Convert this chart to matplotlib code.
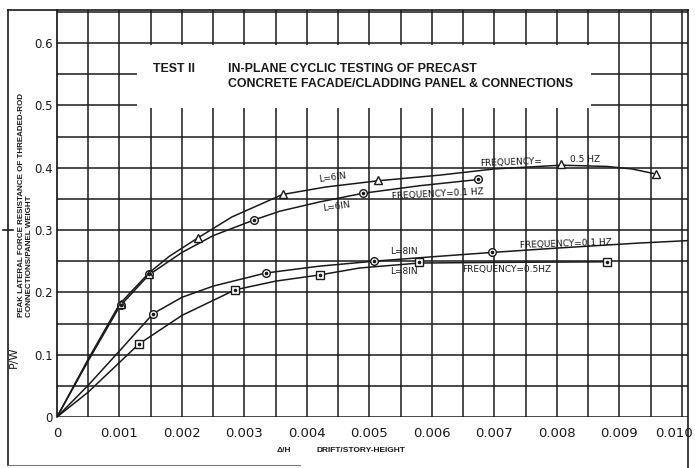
import numpy as np
import matplotlib
matplotlib.use("Agg")
import matplotlib.pyplot as plt
from matplotlib.patches import Rectangle
from matplotlib.lines import Line2D
from matplotlib.transforms import ScaledTranslation

# ---------------- data ----------------
# markers
tri_x = [0.00102, 0.00147, 0.00225, 0.00361, 0.00514, 0.00807, 0.00958]   # L=6in, 0.5 Hz
tri_y = [0.181, 0.230, 0.287, 0.358, 0.381, 0.406, 0.390]
c6_x = [0.00102, 0.00147, 0.00315, 0.0049, 0.00674]                       # L=6in, 0.1 Hz
c6_y = [0.180, 0.230, 0.316, 0.359, 0.382]
c8_x = [0.00154, 0.00334, 0.00508, 0.00696]                               # L=8in, 0.1 Hz
c8_y = [0.166, 0.231, 0.250, 0.264]
sq_x = [0.00131, 0.00285, 0.00421, 0.00579, 0.0088]                       # L=8in, 0.5 Hz
sq_y = [0.117, 0.204, 0.228, 0.248, 0.249]

# hand-drawn fitted curves
tri_cx = [0, 0.0005, 0.001, 0.00147, 0.0018, 0.00225, 0.0028, 0.00361, 0.0043,
          0.00514, 0.00612, 0.0070, 0.00807, 0.0088, 0.0092, 0.00958]
tri_cy = [0, 0.093, 0.181, 0.231, 0.258, 0.287, 0.321, 0.357, 0.369,
          0.379, 0.388, 0.398, 0.404, 0.402, 0.398, 0.390]
c6_cx = [0, 0.0005, 0.001, 0.00147, 0.002, 0.0025, 0.00315, 0.00356, 0.0042,
         0.0049, 0.0058, 0.00674]
c6_cy = [0, 0.090, 0.177, 0.228, 0.264, 0.291, 0.316, 0.330, 0.345,
         0.359, 0.371, 0.381]
c8_cx = [0, 0.0005, 0.001, 0.00154, 0.002, 0.0025, 0.00334, 0.0042, 0.00508,
         0.006, 0.00696, 0.008, 0.0093, 0.0101]
c8_cy = [0, 0.051, 0.106, 0.166, 0.192, 0.210, 0.231, 0.242, 0.250,
         0.257, 0.264, 0.271, 0.279, 0.283]
sq_cx = [0, 0.0005, 0.00131, 0.002, 0.00285, 0.0035, 0.00421, 0.00484,
         0.00579, 0.007, 0.0088]
sq_cy = [0, 0.040, 0.117, 0.163, 0.204, 0.218, 0.228, 0.239,
         0.247, 0.248, 0.249]

x_ticks = [0, 0.001, 0.002, 0.003, 0.004, 0.005, 0.006, 0.007, 0.008, 0.009, 0.010]
x_tick_labels = ["0", "0.001", "0.002", "0.003", "0.004", "0.005", "0.006",
                 "0.007", "0.008", "0.009", "0.010"]
y_ticks = [0, 0.1, 0.2, 0.3, 0.4, 0.5, 0.6]
y_tick_labels = ["0", "0.1", "0.2", "0.3", "0.4", "0.5", "0.6"]

# ---------------- figure ----------------
W, H = 695, 468
fig = plt.figure(figsize=(W / 100, H / 100), dpi=100)
fig.patch.set_facecolor("white")


def fpx(x, y):
    return x / W, 1 - y / H


ax = fig.add_axes([57 / W, 51 / H, (688 - 57) / W, (417 - 10) / H])
ax.set_xlim(0, 0.0101)
ax.set_ylim(0, 0.653)
for s in ["top", "right", "bottom"]:
    ax.spines[s].set_visible(False)
ax.spines["left"].set_linewidth(1.2)
ax.spines["left"].set_color("#111111")

ink = "#1a1a1a"
# grid
for gx in np.arange(0.0005, 0.0101, 0.0005):
    ax.axvline(gx, color=ink, lw=1.1, zorder=1)
for gy in np.arange(0.0, 0.66, 0.05):
    ax.axhline(gy, color=ink, lw=1.1, zorder=1)

# title box (white area covering the grid)
ax.add_patch(Rectangle((0.00128, 0.4965), 0.00726, 0.1005, facecolor="white",
                       edgecolor="none", zorder=2))

# curves
for cx, cy in [(tri_cx, tri_cy), (c6_cx, c6_cy), (c8_cx, c8_cy), (sq_cx, sq_cy)]:
    ax.plot(cx, cy, color=ink, lw=1.1, zorder=3, solid_capstyle="round")

# markers
mk = dict(markerfacecolor="white", markeredgecolor=ink, markeredgewidth=1.0,
          linestyle="none", zorder=4)
ax.plot(c6_x, c6_y, marker="o", markersize=5.5, **mk)
ax.plot(c8_x, c8_y, marker="o", markersize=5.5, **mk)
ax.plot(sq_x, sq_y, marker="s", markersize=5.5, **mk)
ax.plot(tri_x, tri_y, marker="^", markersize=6, **mk)
dot = dict(marker="o", markersize=1.6, color=ink, linestyle="none", zorder=5)
ax.plot(c6_x, c6_y, **dot)
ax.plot(c8_x, c8_y, **dot)
ax.plot(sq_x, sq_y, **dot)

# ticks
ax.set_xticks(x_ticks)
ax.set_xticklabels(x_tick_labels, fontsize=9.5, family="DejaVu Sans")
ax.set_yticks(y_ticks)
ax.set_yticklabels(y_tick_labels, fontsize=8.5, family="DejaVu Sans")
ax.tick_params(axis="both", length=0, colors=ink)
ax.tick_params(axis="x", pad=7)
ax.tick_params(axis="y", pad=3)
last = ax.get_xticklabels()[-1]
last.set_transform(last.get_transform() + ScaledTranslation(-8 / 100, 0, fig.dpi_scale_trans))

# handwritten annotations
hw = dict(fontsize=6.5, color=ink, family="DejaVu Sans", zorder=6,
          ha="center", va="center")
ax.text(0.00441, 0.384, "L=6IN", rotation=8, **hw)
ax.text(0.00447, 0.337, "L=6IN", rotation=8, **hw)
ax.text(0.0061, 0.358, "FREQUENCY=0.1 HZ", rotation=3, **hw)
ax.text(0.00727, 0.409, "FREQUENCY=", rotation=2, **hw)
ax.text(0.00846, 0.413, "0.5 HZ", **hw)
ax.text(0.00556, 0.266, "L=8IN", **hw)
ax.text(0.00556, 0.233, "L=8IN", **hw)
ax.text(0.00815, 0.277, "FREQUENCY=0.1 HZ", rotation=2, **hw)
ax.text(0.0072, 0.236, "FREQUENCY=0.5HZ", **hw)

# title
tt = dict(fontsize=8.9, fontweight="bold", family="Liberation Sans",
          color=ink, ha="left", va="center")
fig.text(*fpx(153, 69), "TEST II", **tt)
fig.text(*fpx(228, 69), "IN-PLANE CYCLIC TESTING OF PRECAST", **tt)
fig.text(*fpx(228, 84), "CONCRETE FACADE/CLADDING PANEL & CONNECTIONS", **tt)

# axis labels
fig.text(*fpx(284, 451), "\u0394/H", fontsize=6, fontweight="bold",
         family="Liberation Sans", ha="center", va="center", color=ink)
fig.text(*fpx(361, 451), "DRIFT/STORY-HEIGHT", fontsize=6, fontweight="bold",
         family="Liberation Sans", ha="center", va="center", color=ink)
fig.text(*fpx(14, 357), "P/W", fontsize=8, rotation=90, family="DejaVu Sans",
         ha="center", va="center", color=ink)
fig.text(*fpx(22, 317), "PEAK LATERAL FORCE RESISTANCE OF THREADED-ROD",
         fontsize=5.8, fontweight="bold", family="Liberation Sans",
         rotation=90, ha="center", va="bottom", color=ink)
fig.text(*fpx(30, 317), "CONNECTIONS/PANEL WEIGHT",
         fontsize=5.8, fontweight="bold", family="Liberation Sans",
         rotation=90, ha="center", va="bottom", color=ink)

# outer frame lines
fr = dict(color=ink, lw=1.2, transform=fig.transFigure)
fig.add_artist(Line2D(*zip(fpx(8, 10), fpx(688, 10)), **fr))
fig.add_artist(Line2D(*zip(fpx(8, 10), fpx(8, 465)), **fr))
fig.add_artist(Line2D(*zip(fpx(688, 10), fpx(688, 468)), **fr))
fig.add_artist(Line2D(*zip(fpx(3, 230), fpx(13, 230)), **fr))
fig.add_artist(Line2D(*zip(fpx(8, 465), fpx(300, 465)), color="#777777", lw=0.8,
                      transform=fig.transFigure))

fig.savefig("out.png", dpi=100)
